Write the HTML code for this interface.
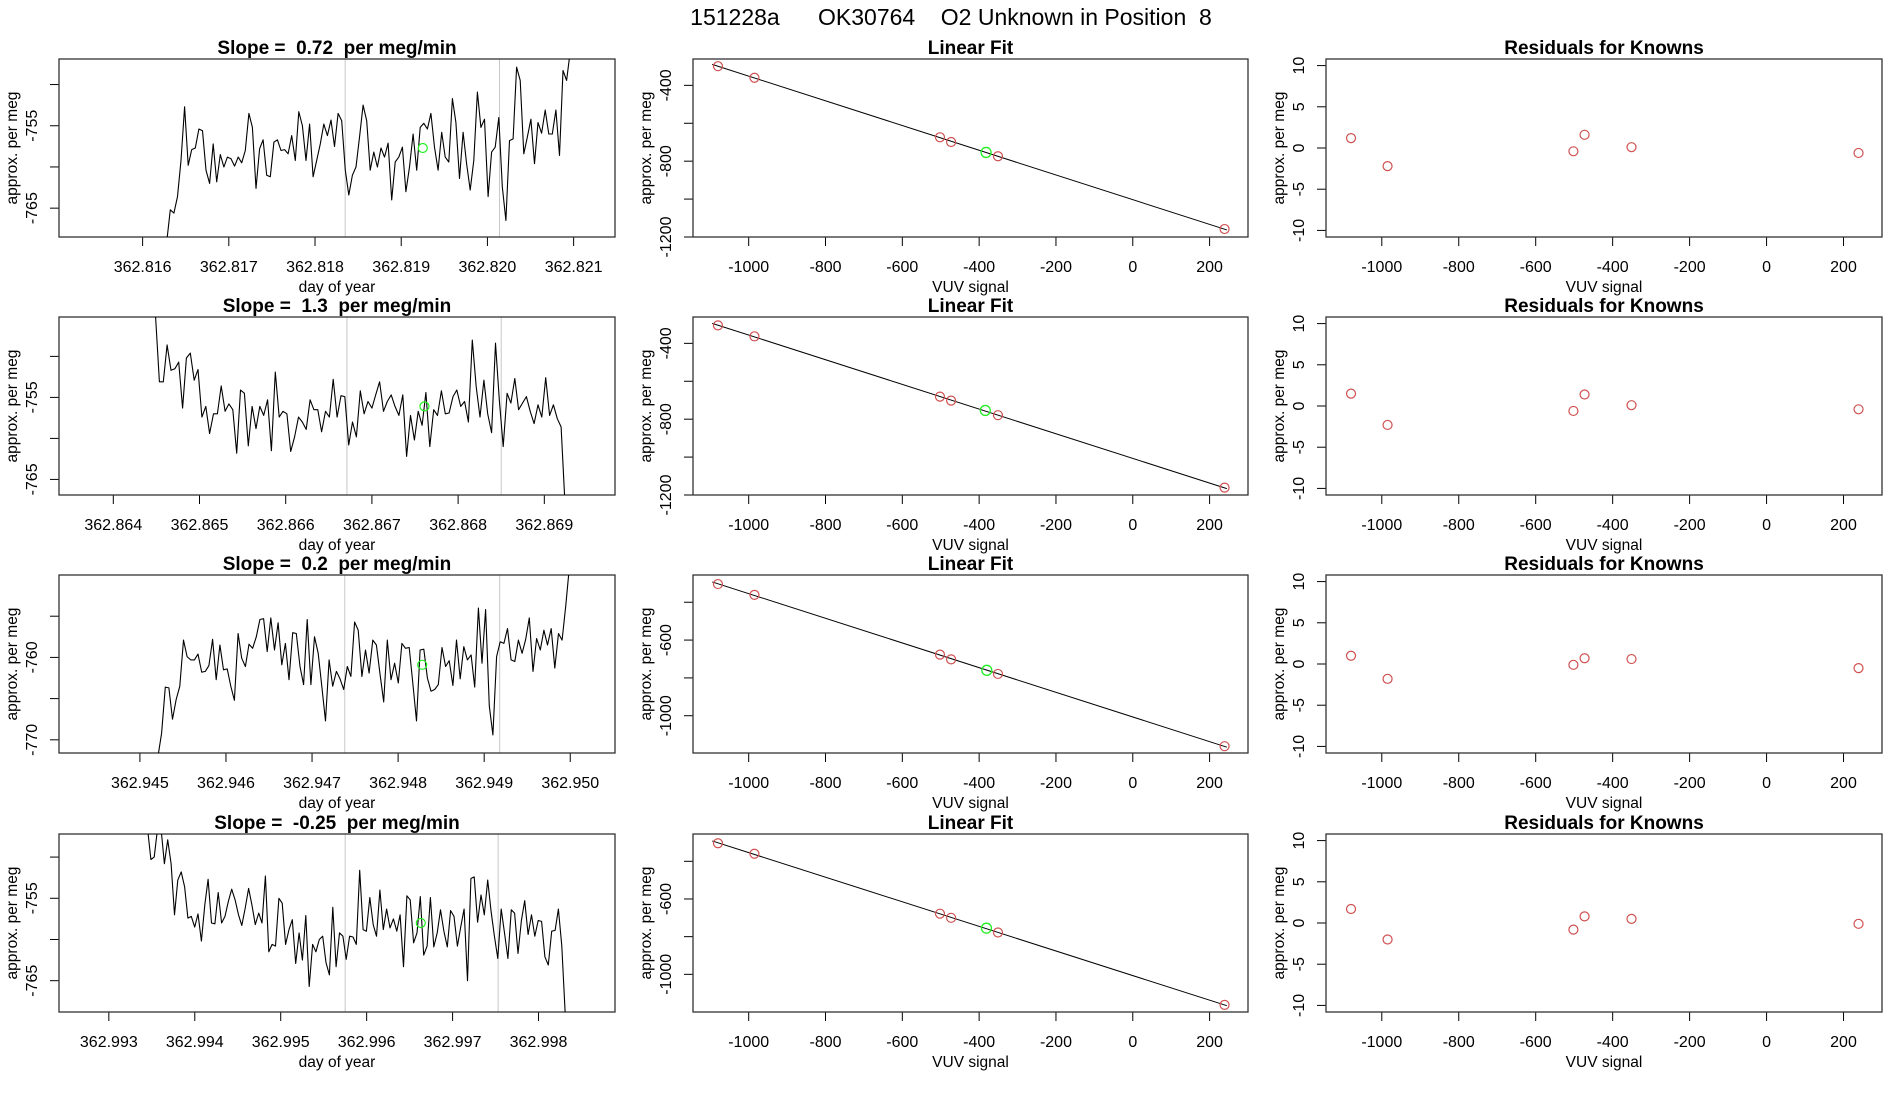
<!DOCTYPE html>
<html><head><meta charset="utf-8"><style>
html,body{margin:0;padding:0;background:#fff;}
svg{display:block;font-family:"Liberation Sans",Arial,sans-serif;}
text{white-space:pre;}
</style></head><body>
<svg id="chart" width="1900" height="1100" viewBox="0 0 1900 1100" xmlns="http://www.w3.org/2000/svg">
<rect x="0" y="0" width="1900" height="1100" fill="#fff"/>
<text x="951" y="25" font-size="23" text-anchor="middle" fill="#000">151228a      OK30764    O2 Unknown in Position  8</text>
</svg>
<script>
// ---------- time-series data ----------
const slopeLabels = ["0.72", "1.3", "0.2", "-0.25"];
const tsStart = [362.81628, 362.86449, 362.94521, 362.99345];
const tsEnd = [362.82096, 362.86924, 362.94999, 362.99831];
const tsXlim = [[362.81503, 362.82148], [362.86337, 362.86982], [362.94406, 362.95052], [362.99242, 362.99889]];
const tsYlim = [[-768.5, -746.9], [-766.9, -745.2], [-771.6, -750.0], [-768.8, -747.2]];
const tsXticks = [
 ["362.816","362.817","362.818","362.819","362.820","362.821"],
 ["362.864","362.865","362.866","362.867","362.868","362.869"],
 ["362.945","362.946","362.947","362.948","362.949","362.950"],
 ["362.993","362.994","362.995","362.996","362.997","362.998"]];
const tsYticks = [[-750,-755,-760,-765],[-750,-755,-760,-765],[-755,-760,-765,-770],[-750,-755,-760,-765]];
const tsYlabels = [[-755,-765],[-755,-765],[-760,-770],[-755,-765]];
const tsVlines = [[362.81835, 362.82014],[362.86671, 362.86850],[362.94738, 362.94918],[362.99575, 362.99753]];
const tsGreenT = [362.81925, 362.86761, 362.94828, 362.99663];
const tsGreenV = [-757.7, -756.1, -760.9, -758.0];
const series1 = [-769,-765.2,-765.6,-763.6,-759.2,-752.7,-759.8,-757.9,-757.7,-755.4,-755.6,-760.4,-762.0,-757.2,-761.8,-758.5,-760.0,-758.8,-759.0,-759.9,-758.8,-759.5,-758.0,-753.5,-755.2,-762.6,-757.8,-756.7,-761.0,-761.2,-757.0,-756.7,-758.0,-757.9,-758.4,-756.2,-759.2,-753.3,-755.0,-759.2,-754.8,-761.2,-759.2,-757.2,-754.8,-756.2,-754.3,-757.5,-753.5,-754.4,-760.4,-763.4,-761.0,-760.0,-756.4,-752.5,-754.4,-760.4,-758.2,-760.0,-757.7,-758.8,-757.1,-764.0,-759.4,-758.8,-757.6,-763.0,-760.0,-756.0,-760.4,-755.2,-754.7,-755.4,-753.5,-757.6,-760.4,-755.8,-758.8,-759.4,-751.7,-754.6,-761.4,-755.8,-759.6,-762.8,-759.2,-750.9,-755.2,-754.2,-763.6,-758.2,-757.6,-754.0,-762.4,-766.5,-756.8,-756.6,-747.9,-749.5,-758.4,-756.4,-754.2,-759.6,-754.6,-755.9,-753.1,-756.0,-756.0,-753.1,-758.6,-748.3,-749.5,-746];
const series2 = [-745,-753.1,-753.1,-748.6,-751.7,-751.5,-750.7,-756.3,-750.2,-749.6,-752.9,-751.6,-757.4,-756.1,-759.4,-757.0,-757.0,-753.6,-756.7,-755.8,-756.5,-761.8,-754.1,-754.5,-760.9,-756.1,-758.8,-756.1,-757.2,-755.3,-761.5,-751.9,-757.4,-756.7,-757.0,-761.6,-759.8,-757.4,-758.0,-758.9,-755.3,-756.5,-756.5,-759.2,-756.7,-757.4,-752.8,-757.4,-754.8,-754.9,-760.8,-758.0,-759.8,-754.2,-757.0,-755.5,-756.3,-754.7,-753.1,-756.7,-755.5,-754.7,-756.1,-757.2,-754.7,-762.2,-757.2,-760.2,-756.7,-758.4,-754.4,-761.0,-756.5,-757.2,-754.2,-757.0,-756.9,-754.9,-754.1,-756.1,-755.5,-758.0,-748.0,-753.7,-757.4,-752.9,-757.0,-759.3,-748.4,-755.3,-761.0,-754.5,-755.7,-752.7,-756.5,-755.7,-754.9,-756.7,-758.2,-755.9,-757.4,-752.6,-757.2,-755.9,-757.6,-758.6,-768];
const series3 = [-772,-769.2,-763.6,-763.7,-767.5,-765.1,-763.5,-757.9,-759.9,-760.3,-760.3,-759.6,-761.8,-761.7,-761.0,-757.8,-762.7,-758.5,-761.5,-761.4,-763.5,-765.2,-757.1,-760.1,-761.1,-758.4,-758.9,-757.5,-755.4,-755.3,-759.3,-755.2,-759.1,-755.8,-760.9,-758.3,-762.7,-757.0,-757.1,-761.1,-763.3,-755.4,-763.3,-757.5,-759.5,-763.5,-767.7,-760.3,-763.5,-761.7,-762.6,-763.9,-761.1,-762.3,-755.7,-756.7,-762.3,-759.1,-761.9,-757.9,-758.5,-762.1,-765.4,-757.9,-762.7,-760.7,-763.1,-758.3,-758.9,-758.8,-763.1,-767.7,-759.1,-759.0,-762.5,-764.1,-763.9,-763.3,-758.8,-761.1,-760.4,-763.4,-757.9,-762.6,-758.7,-760.3,-759.7,-763.6,-754.0,-760.7,-754.2,-765.9,-769.4,-759.9,-758.1,-758.3,-756.5,-760.3,-760.5,-757.9,-759.5,-757.8,-755.2,-761.7,-757.7,-759.1,-756.7,-758.5,-756.5,-761.3,-757.1,-757.9,-753.8,-749];
const series4 = [-746.5,-750.3,-750.0,-746.5,-746.5,-750.8,-747.9,-750.8,-757.0,-752.8,-751.8,-753.6,-757.4,-757.2,-758.5,-756.9,-760.2,-755.8,-752.7,-758.0,-758.1,-754.3,-758.0,-757.2,-755.4,-753.9,-755.2,-757.0,-758.3,-756.2,-753.8,-755.8,-758.2,-756.8,-758.0,-752.3,-761.5,-760.6,-760.8,-755.0,-755.6,-760.6,-758.8,-757.6,-762.9,-759.2,-762.5,-757.1,-765.7,-760.6,-761.5,-760.0,-759.6,-762.8,-764.3,-756.1,-763.3,-759.2,-759.6,-762.4,-759.6,-759.7,-760.6,-751.6,-758.8,-759.0,-754.9,-758.2,-759.6,-754.0,-758.8,-756.3,-758.6,-757.5,-759.0,-757.0,-763.3,-754.7,-755.2,-760.4,-759.2,-754.8,-761.9,-760.8,-754.9,-760.9,-759.2,-756.4,-759.0,-760.9,-756.5,-757.2,-760.8,-758.5,-756.3,-765.0,-752.6,-752.4,-757.9,-754.6,-757.0,-752.8,-756.6,-759.6,-762.3,-756.3,-759.2,-762.3,-756.4,-756.8,-761.7,-757.7,-755.3,-759.4,-757.0,-759.6,-757.7,-757.8,-762.1,-763.1,-759.0,-758.9,-756.3,-760.8,-769];
const tsSeries = [series1, series2, series3, series4];

// ---------- linear fit data ----------
const knownX = [-1080, -985, -502, -473, -351, 239];
const knownY1 = [-299, -360, -674, -699, -774, -1158];
const knownY2 = [-305, -363, -681, -702, -779, -1161];
const knownY3 = [-304, -361, -677, -702, -779, -1161];
const knownY4 = [-304, -360, -678, -700, -778, -1162];
const knownY = [knownY1, knownY2, knownY3, knownY4];
const unknownX = [-382, -384, -380, -381];
const unknownY = [-754, -754, -760, -755];
const fitYlim = [[-1200, -261], [-1200, -261], [-1197, -256], [-1200, -255]];
const fitYticks = [[-400,-600,-800,-1000,-1200],[-400,-600,-800,-1000,-1200],[-400,-600,-800,-1000],[-400,-600,-800,-1000]];
const fitYlabels = [[-400,-800,-1200],[-400,-800,-1200],[-600,-1000],[-600,-1000]];
const vuvTicks = [-1000, -800, -600, -400, -200, 0, 200];
const vuvXlim = [-1145, 300];

// ---------- residual data ----------
const resid1 = [1.2, -2.2, -0.4, 1.6, 0.1, -0.6];
const resid2 = [1.5, -2.3, -0.6, 1.4, 0.1, -0.4];
const resid3 = [1.0, -1.8, -0.1, 0.7, 0.6, -0.5];
const resid4 = [1.7, -2.0, -0.8, 0.8, 0.5, -0.1];
const resids = [resid1, resid2, resid3, resid4];
const residTicks = [-10, -5, 0, 5, 10];
const residYlim = [-10.8, 10.8];

// ---------- drawing ----------
const NS = "http://www.w3.org/2000/svg";
const svg = document.getElementById("chart");
const colL = [59, 693, 1326], colR = [615, 1248, 1882];
const rowTop = [59, 317, 575, 834], boxH = 178;

function mk(tag, attrs, parent) {
  const e = document.createElementNS(NS, tag);
  for (const k in attrs) e.setAttribute(k, attrs[k]);
  (parent || svg).appendChild(e);
  return e;
}
function txt(s, x, y, size, opts, parent) {
  const t = mk("text", Object.assign({x: x, y: y, "font-size": size, "text-anchor": "middle", fill: "#000"}, opts || {}), parent);
  t.textContent = s;
  return t;
}
function scale(d0, d1, r0, r1) { return v => r0 + (v - d0) / (d1 - d0) * (r1 - r0); }

for (let r = 0; r < 4; r++) {
  const top = rowTop[r], bot = top + boxH;
  for (let c = 0; c < 3; c++) {
    const L = colL[c], R = colR[c];
    const g = mk("g", {});
    
    
    const cid = "clip" + r + c;
    const cp = mk("clipPath", {id: cid}, g);
    mk("rect", {x: L, y: top, width: R - L, height: boxH}, cp);
    let xs, ys, title, xlab, xtickVals, xtickLabels, ytickVals, ylabVals;
    if (c === 0) {
      xs = scale(tsXlim[r][0], tsXlim[r][1], L, R);
      ys = scale(tsYlim[r][0], tsYlim[r][1], bot, top);
      title = "Slope =  " + slopeLabels[r] + "  per meg/min";
      xlab = "day of year";
      xtickLabels = tsXticks[r];
      xtickVals = xtickLabels.map(Number);
      ytickVals = tsYticks[r]; ylabVals = tsYlabels[r];
    } else {
      xs = scale(vuvXlim[0], vuvXlim[1], L, R);
      if (c === 1) { ys = scale(fitYlim[r][0], fitYlim[r][1], bot, top); ytickVals = fitYticks[r]; ylabVals = fitYlabels[r]; title = "Linear Fit"; }
      else { ys = scale(residYlim[0], residYlim[1], bot, top); ytickVals = residTicks; ylabVals = residTicks; title = "Residuals for Knowns"; }
      xlab = "VUV signal";
      xtickVals = vuvTicks; xtickLabels = vuvTicks.map(String);
    }
    const tt = txt(title, (L + R) / 2, top - 5, 19, {"font-weight": "bold"}, g);
    
    
    if (c === 0) {
      tsVlines[r].forEach(v => {
        const ln = mk("line", {x1: xs(v), x2: xs(v), y1: top, y2: bot, stroke: "#c8c8c8", "stroke-width": 1}, g);
        
        
      });
    }
    const xa = mk("g", {}, g);
    
    
    mk("line", {x1: xs(xtickVals[0]), x2: xs(xtickVals[xtickVals.length - 1]), y1: bot, y2: bot, stroke: "#000", "stroke-width": 1}, xa);
    xtickVals.forEach((v, i) => {
      mk("line", {x1: xs(v), x2: xs(v), y1: bot, y2: bot + 9, stroke: "#000", "stroke-width": 1}, xa);
      const tl = txt(xtickLabels[i], xs(v), bot + 35, 16, {}, xa);
      
      
    });
    const xt = txt(xlab, (L + R) / 2, bot + 55, 15.5, {}, g);
    
    
    const ya = mk("g", {}, g);
    
    
    mk("line", {x1: L, x2: L, y1: ys(ytickVals[0]), y2: ys(ytickVals[ytickVals.length - 1]), stroke: "#000", "stroke-width": 1}, ya);
    ytickVals.forEach(v => {
      mk("line", {x1: L - 9, x2: L, y1: ys(v), y2: ys(v), stroke: "#000", "stroke-width": 1}, ya);
    });
    ylabVals.forEach(v => {
      const yl = txt(String(v), 0, 0, 16, {transform: "translate(" + (L - 22) + "," + ys(v) + ") rotate(-90)"}, ya);
      
      
    });
    const yt = txt("approx. per meg", 0, 0, 15.5, {transform: "translate(" + (L - 42) + "," + (top + boxH / 2) + ") rotate(-90)"}, g);
    
    
    const bx = mk("rect", {x: L, y: top, width: R - L, height: boxH, fill: "none", stroke: "#333", "stroke-width": 1.3}, g);
    
    
    const pg = mk("g", {"clip-path": "url(#" + cid + ")"}, g);
    if (c === 0) {
      const vals = tsSeries[r], n = vals.length;
      const pts = vals.map((v, i) => xs(tsStart[r] + (tsEnd[r] - tsStart[r]) * i / (n - 1)).toFixed(1) + "," + ys(v).toFixed(1)).join(" ");
      const pl = mk("polyline", {points: pts, fill: "none", stroke: "#000", "stroke-width": 1.1, "stroke-linejoin": "round"}, pg);
      
      
      const gp = mk("circle", {cx: xs(tsGreenT[r]), cy: ys(tsGreenV[r]), r: 4.5, fill: "none", stroke: "#22ee22", "stroke-width": 1.2}, pg);
      
      
    } else if (c === 1) {
      const X = knownX, Y = knownY[r], n = X.length;
      const mx = X.reduce((a, b) => a + b) / n, my = Y.reduce((a, b) => a + b) / n;
      let sxy = 0, sxx = 0;
      for (let i = 0; i < n; i++) { sxy += (X[i] - mx) * (Y[i] - my); sxx += (X[i] - mx) ** 2; }
      const b = sxy / sxx, a = my - b * mx;
      const x0 = Math.min(...X) - 15, x1 = Math.max(...X) + 6;
      const fl = mk("line", {x1: xs(x0), y1: ys(a + b * x0), x2: xs(x1), y2: ys(a + b * x1), stroke: "#000", "stroke-width": 1}, pg);
      
      
      X.forEach((xv, i) => {
        const kp = mk("circle", {cx: xs(xv), cy: ys(Y[i]), r: 4.5, fill: "none", stroke: "#d05050", "stroke-width": 1.2}, pg);
        
        
      });
      const up = mk("circle", {cx: xs(unknownX[r]), cy: ys(unknownY[r]), r: 5, fill: "none", stroke: "#22ee22", "stroke-width": 1.3}, pg);
      
      
    } else {
      knownX.forEach((xv, i) => {
        const rp = mk("circle", {cx: xs(xv), cy: ys(resids[r][i]), r: 4.5, fill: "none", stroke: "#d05050", "stroke-width": 1.2}, pg);
        
        
      });
    }
  }
}
</script>
</body></html>
